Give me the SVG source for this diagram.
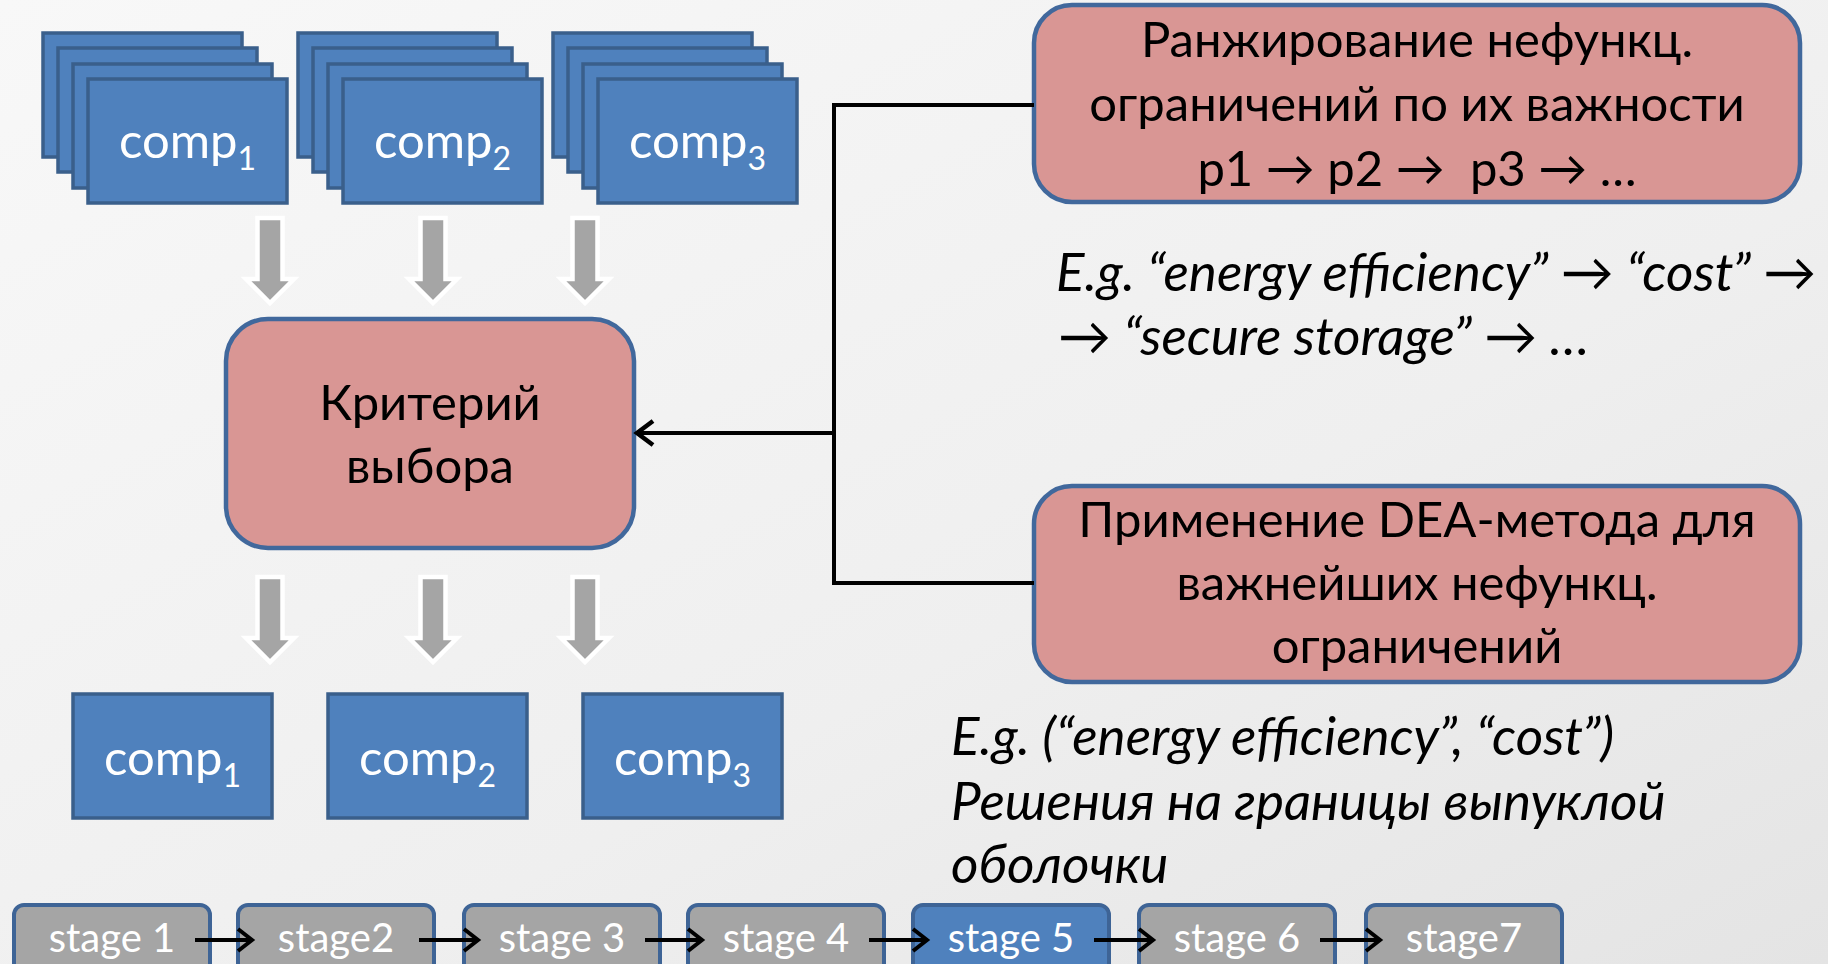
<svg xmlns="http://www.w3.org/2000/svg" xmlns:xlink="http://www.w3.org/1999/xlink" width="1828" height="964" viewBox="0 0 1828 964">
  <defs>
    <linearGradient id="bg" x1="0" y1="0" x2="1" y2="1">
      <stop offset="0" stop-color="#F8F8F8"/>
      <stop offset="0.6" stop-color="#EFEFEF"/>
      <stop offset="1" stop-color="#E4E4E4"/>
    </linearGradient>
    <path id="garrow" d="M-12.5,0 H12.5 V61 H24 L0,85 L-24,61 H-12.5 Z"/>
    <marker id="arr" markerUnits="userSpaceOnUse" markerWidth="30" markerHeight="30" viewBox="-20 -15 30 30" refX="0" refY="0" orient="auto">
      <path d="M-16,-12 L0,0 L-16,12" fill="none" stroke="#000" stroke-width="4.5"/>
    </marker>
    <marker id="arrS" markerUnits="userSpaceOnUse" markerWidth="30" markerHeight="30" viewBox="-20 -15 30 30" refX="0" refY="0" orient="auto">
      <path d="M-14,-11 L0,0 L-14,11" fill="none" stroke="#000" stroke-width="4"/>
    </marker>
  </defs>
  <style>
    .blue{fill:#4F81BD;stroke:#3A5F8B;stroke-width:3.5}
    .pink{fill:#D99694;stroke:#41689C;stroke-width:4.5}
    .stage{fill:#A5A5A5;stroke:#3E6496;stroke-width:4}
    .cur{fill:#4F81BD}
    .garrow{fill:#A5A5A5;stroke:#FFFFFF;stroke-width:4.5}
    .t{font-family:Lato,'Open Sans',sans-serif}
    .big{font-size:49px}
    .it{font-style:italic;font-size:53px;fill:#000}
    .w{fill:#FFFFFF}
    .k{fill:#000000}
    .mid{text-anchor:middle}
    .st{font-size:40px}
    .sub{font-size:32px}
    .conn{stroke:#000;stroke-width:4;fill:none}
  </style>

  <rect x="0" y="0" width="1828" height="964" fill="url(#bg)"/>

  <!-- stacked input components -->
  <g id="stack1">
    <rect class="blue" x="43" y="33" width="199" height="124"/>
    <rect class="blue" x="58" y="48" width="199" height="124"/>
    <rect class="blue" x="73" y="64" width="199" height="124"/>
    <rect class="blue" x="88" y="79" width="199" height="124"/>
    <text class="t big w mid" x="187.5" y="158">comp<tspan class="sub" dy="12">1</tspan></text>
  </g>
  <g id="stack2">
    <rect class="blue" x="298" y="33" width="199" height="124"/>
    <rect class="blue" x="313" y="48" width="199" height="124"/>
    <rect class="blue" x="328" y="64" width="199" height="124"/>
    <rect class="blue" x="343" y="79" width="199" height="124"/>
    <text class="t big w mid" x="442.5" y="158">comp<tspan class="sub" dy="12">2</tspan></text>
  </g>
  <g id="stack3">
    <rect class="blue" x="553" y="33" width="199" height="124"/>
    <rect class="blue" x="568" y="48" width="199" height="124"/>
    <rect class="blue" x="583" y="64" width="199" height="124"/>
    <rect class="blue" x="598" y="79" width="199" height="124"/>
    <text class="t big w mid" x="697.5" y="158">comp<tspan class="sub" dy="12">3</tspan></text>
  </g>

  <!-- criterion -->
  <g id="criterion">
    <rect class="pink" x="226" y="319" width="408" height="229" rx="42" ry="42"/>
    <text class="t big k mid" x="430" y="420">Критерий</text>
    <text class="t big k mid" x="430" y="483">выбора</text>
  </g>

  <!-- output components -->
  <g id="out1">
    <rect class="blue" x="73" y="694" width="199" height="124"/>
    <text class="t big w mid" x="172.5" y="775">comp<tspan class="sub" dy="12">1</tspan></text>
  </g>
  <g id="out2">
    <rect class="blue" x="328" y="694" width="199" height="124"/>
    <text class="t big w mid" x="427.5" y="775">comp<tspan class="sub" dy="12">2</tspan></text>
  </g>
  <g id="out3">
    <rect class="blue" x="583" y="694" width="199" height="124"/>
    <text class="t big w mid" x="682.5" y="775">comp<tspan class="sub" dy="12">3</tspan></text>
  </g>

  <!-- ranking -->
  <g id="ranking">
    <rect class="pink" x="1034" y="5" width="766" height="197" rx="38" ry="38"/>
    <text class="t big k mid" x="1417" y="57">Ранжирование нефункц.</text>
    <text class="t big k mid" x="1417" y="121">ограничений по их важности</text>
    <text class="t big k mid" x="1417" y="186" style="white-space:pre">p1 → p2 →  p3 → …</text>
  </g>
  <g id="ranking-note">
    <text class="t it" x="1056" y="291">E.g. “energy efficiency” → “cost” →</text>
    <text class="t it" x="1058" y="355">→ “secure storage” → …</text>
  </g>

  <!-- DEA -->
  <g id="dea">
    <rect class="pink" x="1034" y="486" width="766" height="196" rx="38" ry="38"/>
    <text class="t big k mid" x="1417" y="537">Применение DEA-метода для</text>
    <text class="t big k mid" x="1417" y="600">важнейших нефункц.</text>
    <text class="t big k mid" x="1417" y="663">ограничений</text>
  </g>
  <g id="dea-note">
    <text class="t it" x="951" y="755">E.g. (“energy efficiency”, “cost”)</text>
    <text class="t it" x="951" y="820">Решения на границы выпуклой</text>
    <text class="t it" x="951" y="883">оболочки</text>
  </g>

  <!-- stages -->
  <g id="stage1"><rect class="stage" x="14" y="905" width="196" height="80" rx="10"/><text class="t st w mid" x="112" y="952">stage 1</text></g>
  <g id="stage2"><rect class="stage" x="238" y="905" width="196" height="80" rx="10"/><text class="t st w mid" x="336" y="952">stage2</text></g>
  <g id="stage3"><rect class="stage" x="464" y="905" width="196" height="80" rx="10"/><text class="t st w mid" x="562" y="952">stage 3</text></g>
  <g id="stage4"><rect class="stage" x="688" y="905" width="196" height="80" rx="10"/><text class="t st w mid" x="786" y="952">stage 4</text></g>
  <g id="stage5"><rect class="stage cur" x="913" y="905" width="196" height="80" rx="10"/><text class="t st w mid" x="1011" y="952">stage 5</text></g>
  <g id="stage6"><rect class="stage" x="1139" y="905" width="196" height="80" rx="10"/><text class="t st w mid" x="1237" y="952">stage 6</text></g>
  <g id="stage7"><rect class="stage" x="1366" y="905" width="196" height="80" rx="10"/><text class="t st w mid" x="1464" y="952">stage7</text></g>

  <!-- connectors -->
  <g id="connectors">
    <use href="#garrow" class="garrow" x="270" y="218"/>
    <use href="#garrow" class="garrow" x="433" y="218"/>
    <use href="#garrow" class="garrow" x="585" y="218"/>
    <use href="#garrow" class="garrow" x="270" y="577"/>
    <use href="#garrow" class="garrow" x="433" y="577"/>
    <use href="#garrow" class="garrow" x="585" y="577"/>
    <path class="conn" d="M1034,105 H834 V583 H1034"/>
    <path class="conn" d="M834,433 H637" marker-end="url(#arr)"/>
    <path class="conn" d="M195,940 H252" marker-end="url(#arrS)"/>
    <path class="conn" d="M419,940 H478" marker-end="url(#arrS)"/>
    <path class="conn" d="M645,940 H702" marker-end="url(#arrS)"/>
    <path class="conn" d="M869,940 H927" marker-end="url(#arrS)"/>
    <path class="conn" d="M1094,940 H1153" marker-end="url(#arrS)"/>
    <path class="conn" d="M1320,940 H1380" marker-end="url(#arrS)"/>
  </g>
</svg>
